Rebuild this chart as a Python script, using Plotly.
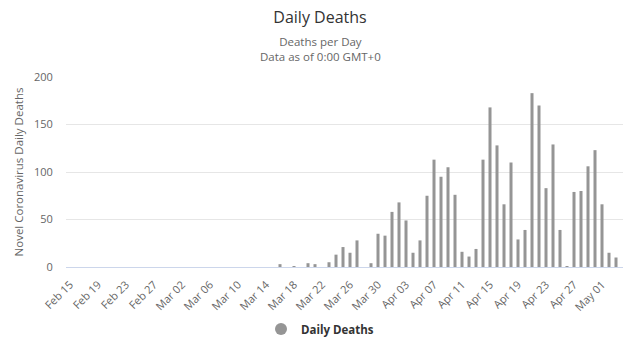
import pandas as pd
import plotly.graph_objects as go

start_date = "2020-02-15"
end_date = "2020-05-03"
dates = pd.date_range(start_date, end_date, freq="D")

daily_deaths = (
    [0] * 30
    + [3, 0, 1, 0, 4, 3, 0, 5, 13, 21, 15, 28, 0, 4, 35, 33]
    + [58, 68, 49, 15, 28, 75, 113, 95, 105, 76, 16, 11, 19, 113, 168,
       128, 66, 110, 29, 39, 183, 170, 83, 129, 39, 1, 79, 80, 106, 123]
    + [66, 15, 10]
)

tick_dates = pd.date_range(start_date, end_date, freq="4D")
tick_labels = [d.strftime("%b %d") for d in tick_dates]

FONT = "Open Sans, Segoe UI, sans-serif"
BAR = "#959595"

fig = go.Figure()
fig.add_trace(go.Bar(x=dates, y=daily_deaths, marker_color=BAR,
                     marker_line_width=0, showlegend=False, name="Daily Deaths"))
fig.add_trace(go.Scatter(x=[None], y=[None], mode="markers", name="<b>Daily Deaths</b>",
                         marker=dict(symbol="circle", size=12, color=BAR)))

fig.update_layout(
    width=640, height=349,
    margin=dict(l=66, r=17, t=77, b=82),
    paper_bgcolor="white", plot_bgcolor="white",
    font=dict(family=FONT, color="#666666", size=11),
    bargap=0.57,
    title=dict(text="Daily Deaths", x=0.5, xref="container", xanchor="center",
               y=1 - 17 / 349, yref="container", yanchor="middle",
               font=dict(size=16, color="#333333", family=FONT)),
    showlegend=True,
    legend=dict(orientation="h", x=0.5, xref="container", xanchor="center",
                y=1 - 329 / 349, yref="container", yanchor="middle",
                font=dict(size=11.5, color="#333333", family=FONT),
                itemsizing="constant", itemwidth=30),
    xaxis=dict(
        type="date",
        range=["2020-02-14 10:17", "2020-05-04 00:00"],
        tickvals=list(tick_dates), ticktext=tick_labels, tickangle=-45,
        showgrid=False, showline=True, linecolor="#ccd6eb", linewidth=1,
        ticks="outside", tickcolor="rgba(0,0,0,0)", ticklen=6,
        tickfont=dict(size=11, color="#666666"),
        zeroline=False,
    ),
    yaxis=dict(
        range=[0, 200], tickvals=[0, 50, 100, 150, 200],
        showgrid=True, gridcolor="#e6e6e6", gridwidth=1,
        zeroline=False, showline=False,
        ticks="outside", tickcolor="rgba(0,0,0,0)", ticklen=10,
        tickfont=dict(size=11, color="#666666"),
        title=dict(text="Novel Coronavirus Daily Deaths",
                   font=dict(size=11.5, color="#666666"), standoff=7),
    ),
)

fig.add_annotation(text="Deaths per Day<br>Data as of 0:00 GMT+0",
                   xref="paper", yref="paper",
                   x=(320 - 66) / 557, y=1 + (77 - 49) / 190,
                   xanchor="center", yanchor="middle", showarrow=False,
                   font=dict(size=11.5, color="#666666", family=FONT))

fig.update_yaxes(automargin=False)
fig.update_xaxes(automargin=False)

fig.write_html("out.html")
